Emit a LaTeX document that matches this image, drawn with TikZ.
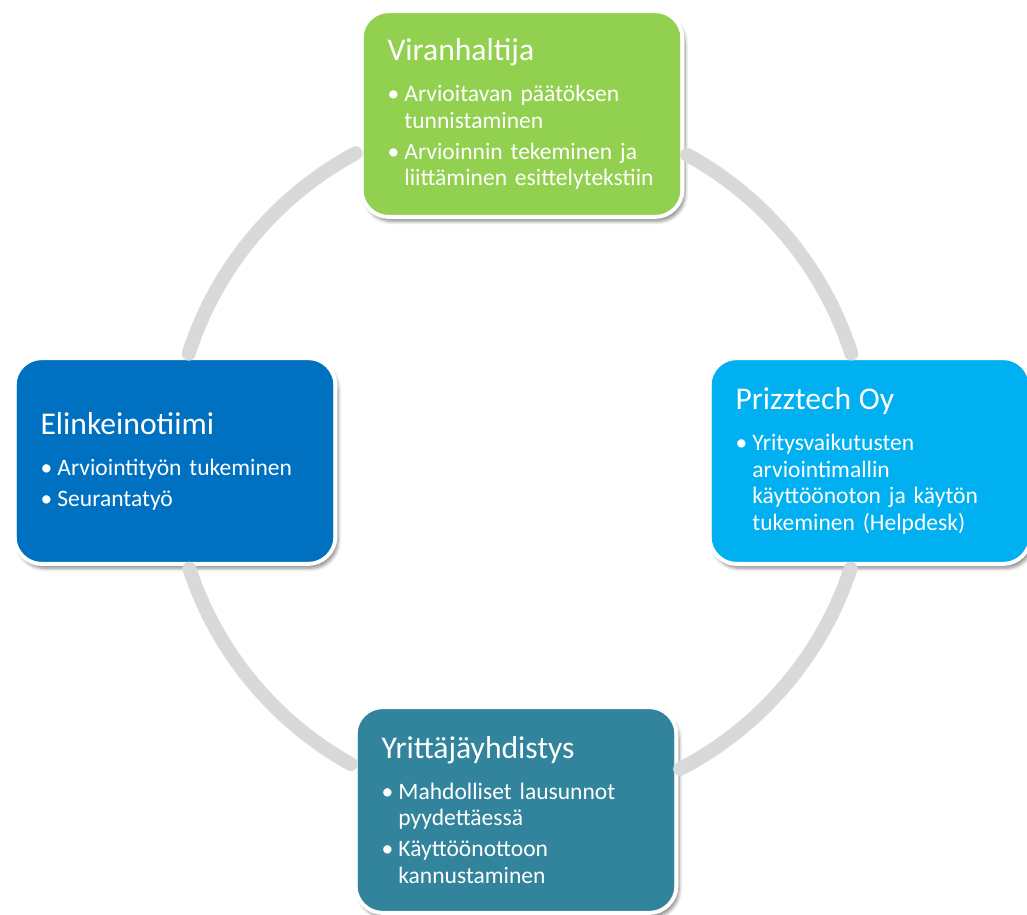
\documentclass[tikz,border=0pt]{standalone}
\usepackage{fontspec}
\setmainfont{Carlito}
\usetikzlibrary{shadows.blur}

\definecolor{vihrea}{HTML}{92D050}
\definecolor{sininen}{HTML}{0070C0}
\definecolor{vaalea}{HTML}{00B0F0}
\definecolor{petroli}{HTML}{31849B}
\definecolor{rengas}{HTML}{D9D9D9}

\newcommand{\otsikko}[1]{{\fontsize{18}{22}\selectfont #1\par}\vspace{5.7pt}}
\newcommand{\kohta}[1]{\par\vspace{2.3pt}\hangindent=9.6pt\hangafter=1\noindent
  \makebox[9.6pt][l]{\textbullet}#1\par}

\begin{document}
\begin{tikzpicture}[x=0.02cm, y=-0.02cm,
  laatikko/.style={rectangle, rounded corners=0.55cm,
    minimum width=6.42cm, minimum height=4.12cm,
    text width=5.38cm, inner xsep=0.52cm, align=left,
    text=white, font=\fontsize{13.4}{15.3}\selectfont,
    draw=white, line width=2.2pt, fill=#1,
    blur shadow={shadow xshift=1.5pt, shadow yshift=-2.5pt,
      shadow opacity=45, shadow blur steps=6}},
  kaari/.style={rengas, line width=0.28cm, line cap=round}]
\useasboundingbox (0,0) rectangle (1027,915);
\clip (0,0) rectangle (1027,915);
\coordinate (keski) at (520,460);
%boxes
\node[laatikko=vihrea] (vir) at (522,114)
  {\otsikko{Viranhaltija}
   \kohta{Arvioitavan päätöksen\newline tunnistaminen}
   \kohta{Arvioinnin tekeminen ja\newline liittäminen esittelytekstiin}};
\node[laatikko=vaalea] (pri) at (870,461)
  {\otsikko{Prizztech Oy}
   \kohta{Yritysvaikutusten\newline arviointimallin\newline
   käyttöönoton ja käytön\newline tukeminen (Helpdesk)}};
\node[laatikko=petroli] (yri) at (516,810)
  {\otsikko{Yrittäjäyhdistys}
   \kohta{Mahdolliset lausunnot\newline pyydettäessä}
   \kohta{Käyttöönottoon\newline kannustaminen}};
\node[laatikko=sininen] (eli) at (175,461)
  {\otsikko{Elinkeinotiimi}
   \kohta{Arviointityön tukeminen}
   \kohta{Seurantatyö}};
%inner lines
\foreach \n in {vir,pri,yri,eli}
{
  \draw[white, line width=0.5pt, rounded corners=0.47cm]
    ([shift={(3.5,3.5)}]\n.north west) rectangle ([shift={(-3.5,-3.5)}]\n.south east);
}
%ring arcs between the boxes (angles mirrored, y points down)
\foreach \a/\b in {-61.3/-17.8, 18.2/62.6, 119.1/161.8, -162.2/-118.2}
{
  \draw[kaari] (keski) ++(\a:348) arc[start angle=\a, end angle=\b, radius=348];
}
\end{tikzpicture}
\end{document}
